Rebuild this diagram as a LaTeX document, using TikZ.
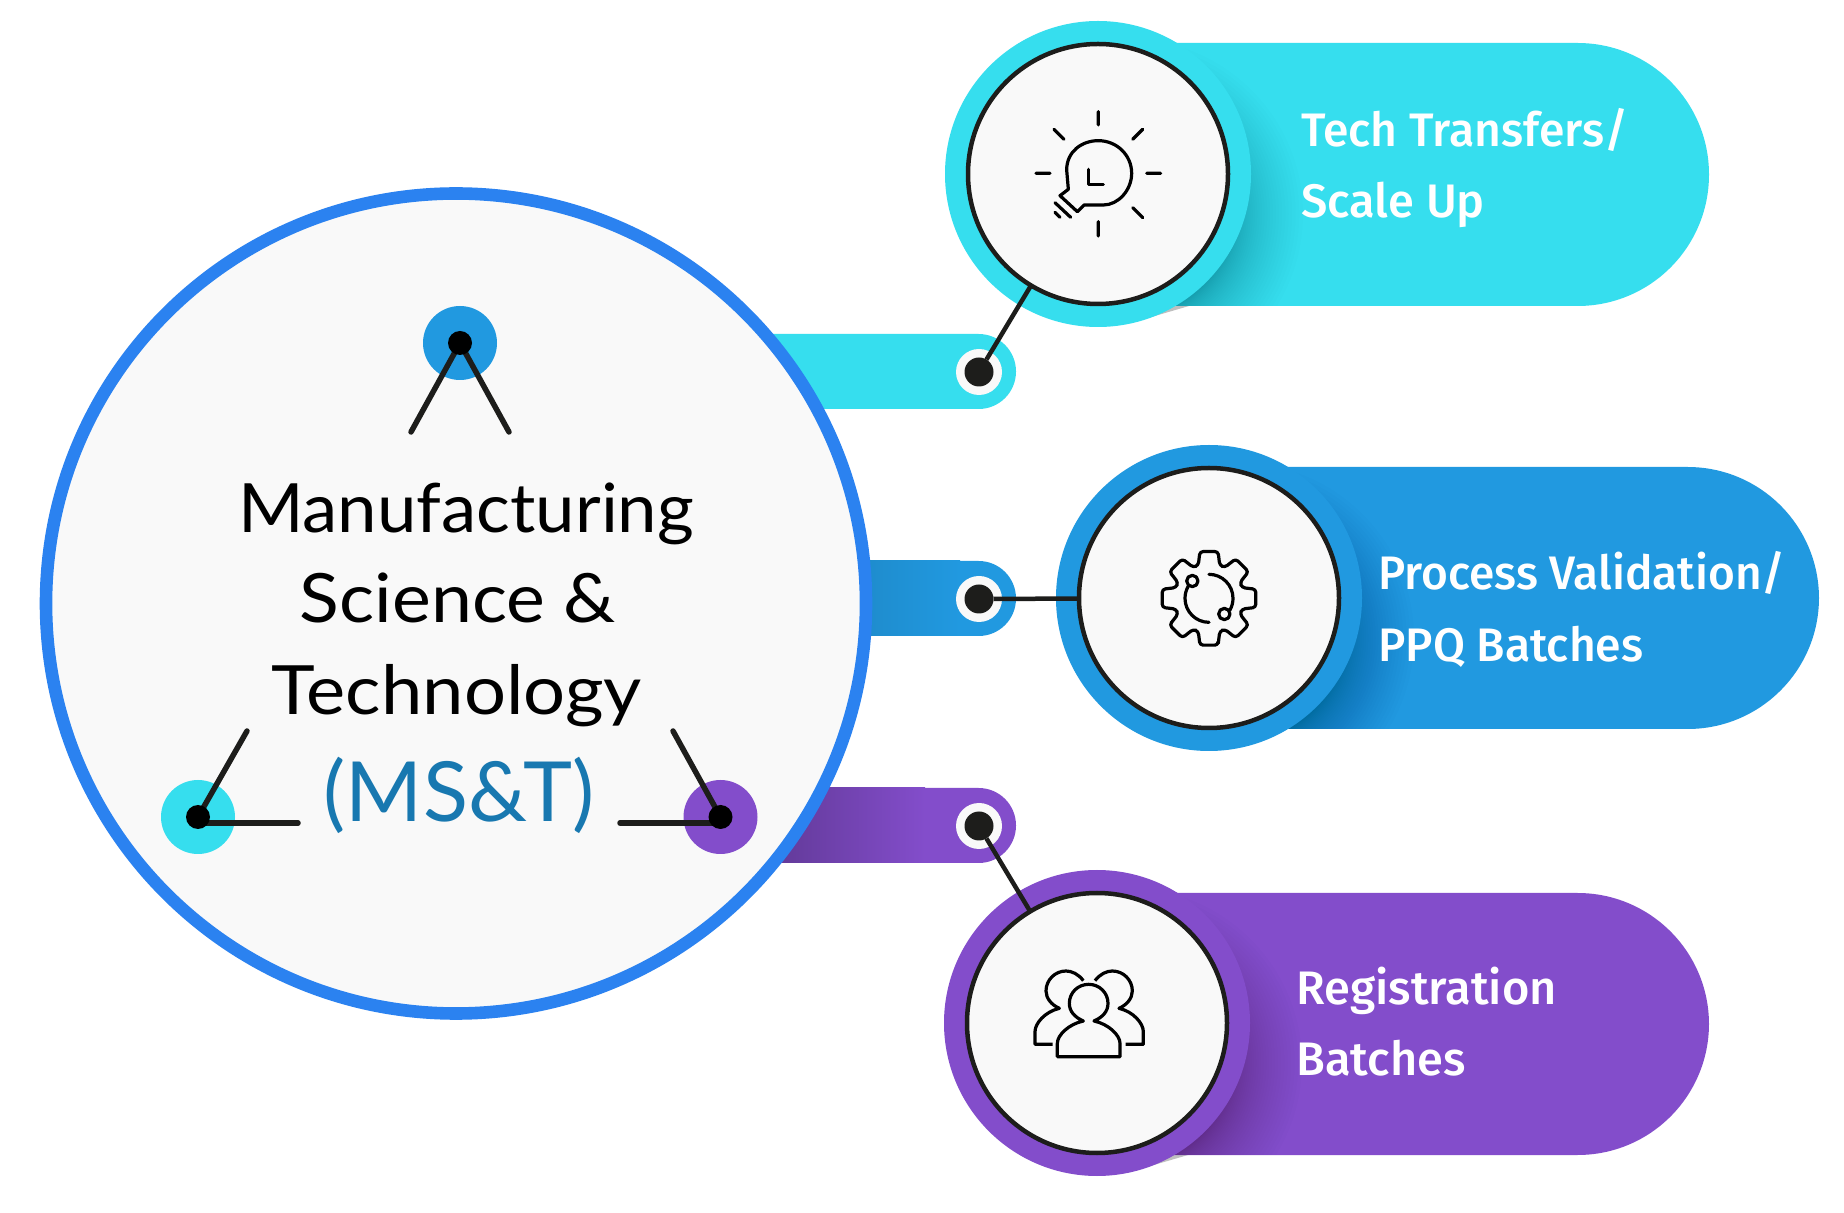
\documentclass[tikz,border=0pt]{standalone}
\usepackage{fontspec}
\setmainfont{Lato}
\newfontfamily\labelf{Fira Sans Medium}
\definecolor{cy}{HTML}{36DEEE}
\definecolor{bl}{HTML}{2199E0}
\definecolor{pu}{HTML}{834DCB}
\definecolor{ringb}{HTML}{2B82F0}
\definecolor{disc}{HTML}{F9F9F9}
\definecolor{ink}{HTML}{1D1D1B}
\definecolor{mst}{HTML}{1878B0}
\tikzset{
  bigdisc/.style={circle,draw=ringb,line width=6.3pt,fill=disc,minimum size=410pt,inner sep=0,outer sep=0},
  ring/.style={circle,fill=#1,minimum size=153pt,inner sep=0,outer sep=0},
  icondisc/.style={circle,draw=ink,line width=2.25pt,fill=disc,minimum size=130pt,inner sep=0,outer sep=0},
  port/.style={circle,fill=disc,minimum size=23pt,inner sep=0,outer sep=0},
  dot/.style={circle,fill=ink,minimum size=14.5pt,inner sep=0,outer sep=0},
  link/.style={draw=ink,line width=2.25pt},
  leg/.style={draw=ink,line width=2.75pt,line cap=round},
  badge/.style={circle,fill=#1,minimum size=37pt,inner sep=0,outer sep=0},
  hub/.style={circle,fill=black,minimum size=12pt,inner sep=0,outer sep=0},
  icon/.style={draw=black,line width=1.6pt,line cap=round,line join=round,fill=none},
  bar/.style={rounded corners=18.7pt},
  lab/.style={text=white,anchor=base west,inner sep=0,font=\labelf\fontsize{23.5}{23.5}\selectfont},
  title/.style={text=black,anchor=base,inner sep=0,font=\fontsize{34}{34}\selectfont},
  zoomunits/.style={x=0.16667pt,y=-0.16667pt}
}
\newcommand{\pillpath}[4]{(#1,#2) rectangle (#1+200,#4) [rounded corners=65.7pt] (#1,#2) rectangle (#3,#4)}
\newcommand{\pillshadow}[6]{% x0 y0 x1 y1 cx cy
  \begin{scope}
    \clip \pillpath{#1}{#2}{#3}{#4};
    \foreach \ii in {40,39,...,0}{
      \pgfmathsetmacro{\rr}{100+75*(\ii/40)^2}
      \fill[black,opacity=0.008] (#5+30,#6+40) circle[radius=\rr];
    }
  \end{scope}}
\newcommand{\sliver}[2]{\fill[gray!50] (#1+50,#2+144) -- (#1+91,#2+132) -- (#1+50,#2+132) -- cycle;}
\begin{document}
\begin{tikzpicture}[x=0.5pt,y=-0.5pt]
\useasboundingbox (0,0) rectangle (1844,1213);
\fill[white] (0,0) rectangle (1844,1213);
% bars
\fill[cy,bar] (700,334) rectangle (1016,409);
\fill[bl,bar] (700,561) rectangle (1016,636);
\fill[pu,bar] (700,788) rectangle (1016,863);
\shade[left color=bl!84!black,right color=bl] (780,561) rectangle (960,636);
\shade[left color=pu!76!black,right color=pu] (780,788) rectangle (925,863);
% main disc
\node[bigdisc] (main) at (456,603.5) {};
% pills
\sliver{1098}{174}
\sliver{1097}{1023}
\fill[cy] \pillpath{1098}{43}{1709}{306};
\fill[bl] \pillpath{1209}{467}{1819}{729};
\fill[pu] \pillpath{1098}{893}{1709}{1155};
\pillshadow{1098}{43}{1709}{306}{1098}{174}
\pillshadow{1209}{467}{1819}{729}{1209}{598}
\pillshadow{1098}{893}{1709}{1155}{1097}{1023}
% rings and discs
\node[ring=cy] (ring1) at (1098,174) {};
\node[ring=bl] (ring2) at (1209,598) {};
\node[ring=pu] (ring3) at (1097,1023) {};
\node[icondisc] (disc1) at (1098,174) {};
\node[icondisc] (disc2) at (1209,598) {};
\node[icondisc] (disc3) at (1097,1023) {};
% ports
\node[port] (port1) at (979,372) {};
\node[port] (port2) at (979,599) {};
\node[port] (port3) at (979,826) {};
\node[dot] (dot1) at (979,372) {};
\node[dot] (dot2) at (979,599) {};
\node[dot] (dot3) at (979,826) {};
\draw[link] (dot1) -- (disc1);
\draw[link] (dot2) -- (disc2);
\draw[link] (dot3) -- (disc3);
% badges
\node[badge=bl] (b1) at (460,343) {};
\node[badge=cy] (b2) at (198,817) {};
\node[badge=pu] (b3) at (720.5,817) {};
\coordinate (l1a) at (411,432);
\coordinate (l1b) at (509,432);
\coordinate (l2a) at (247,731);
\coordinate (l2b) at (298,823);
\coordinate (l2c) at (198,823);
\coordinate (l3a) at (673,731);
\coordinate (l3b) at (620,823);
\coordinate (l3c) at (720,823);
\draw[leg] (b1.center) -- (l1a);
\draw[leg] (b1.center) -- (l1b);
\draw[leg] (b2.center) -- (l2a);
\draw[leg] (l2c) -- (l2b);
\draw[leg] (l3b) -- (l3c);
\draw[leg] (b3.center) -- (l3a);
\node[hub] (h1) at (b1) {};
\node[hub] (h2) at (b2) {};
\node[hub] (h3) at (b3) {};
% titles
\node[title] (t1) at (466,533) {\scalebox{1.04}[1]{Manufacturing}};
\node[title] (t2) at (458,623) {\scalebox{1.08}[1]{Science \&}};
\node[title] (t3) at (457,715) {\scalebox{1.09}[1]{Technology}};
\node[title,text=mst,font=\fontsize{41.5}{41.5}\selectfont] (t4) at (459,821.5) {(MS\&T)};
% labels
\node[lab] (a1) at (1301,147) {\scalebox{.985}[1]{Tech Transfers/}};
\node[lab] (a2) at (1301,218) {Scale Up};
\node[lab] (c1) at (1378,590) {\scalebox{.98}[1]{Process Validation/}};
\node[lab] (c2) at (1378,661.5) {\scalebox{.985}[1]{PPQ Batches}};
\node[lab] (d1) at (1296,1005) {Registration};
\node[lab] (d2) at (1296,1075.5) {Batches};
% bulb icon
\begin{scope}[zoomunits,shift={(470pt,0pt)}]
  \draw[icon] (475,335)--(475,375) (342,388)--(372,418) (608,388)--(578,418)
     (288,520)--(330,520) (620,520)--(662,520) (578,623)--(608,653) (475,665)--(475,708);
  \draw[icon] (385,568) -- (380,510) .. controls (380,455) and (425,422) .. (475,422)
     .. controls (530,422) and (575,465) .. (575,520) .. controls (575,570) and (535,615) .. (490,615)
     -- (432,615) -- (412,635) -- (360,587) -- cycle;
  \draw[icon] (445,508)--(445,553)--(490,553);
  \draw[icon] (345,608)--(392,652) (345,637)--(360,652);
\end{scope}
% gear icon
\begin{scope}[zoomunits,shift={(550pt,-250pt)}]
  \begin{scope}[shift={(327,295)}]
    \draw[icon,rounded corners=1.6pt] (79:143)
      \foreach \aa in {90,135,...,405}{ -- (\aa-11:143) -- (\aa+11:143) -- (\aa+18:104) -- (\aa+27:104) } -- cycle;
    \draw[icon] (0,-72) arc[start angle=-90,end angle=30,radius=72];
    \draw[icon] (0,72) arc[start angle=90,end angle=210,radius=72];
    \draw[icon] (-50,-52) circle[radius=17];
    \draw[icon] (46,47) circle[radius=17];
  \end{scope}
\end{scope}
% people icon
\begin{scope}[zoomunits,shift={(500pt,-460pt)}]
  \draw[icon,line cap=butt] (250,182) .. controls (235,162) and (215,153) .. (198,153) .. controls (165,153) and (138,180) .. (138,213)
     .. controls (138,235) and (155,255) .. (178,265) .. controls (135,275) and (105,310) .. (105,335) -- (105,373) -- (158,373);
  \draw[icon,line cap=butt] (285,182) .. controls (300,162) and (320,153) .. (337,153) .. controls (370,153) and (397,180) .. (397,213)
     .. controls (397,235) and (380,255) .. (357,265) .. controls (400,275) and (430,310) .. (430,335) -- (430,373) -- (377,373);
  \draw[icon] (250,303) .. controls (225,292) and (208,275) .. (208,250) .. controls (208,218) and (234,193) .. (266,193)
     .. controls (298,193) and (324,218) .. (324,250) .. controls (324,275) and (307,292) .. (282,303)
     .. controls (325,312) and (360,345) .. (360,370) -- (360,410) -- (172,410) -- (172,370)
     .. controls (172,345) and (207,312) .. (250,303) -- cycle;
\end{scope}
\end{tikzpicture}
\end{document}
